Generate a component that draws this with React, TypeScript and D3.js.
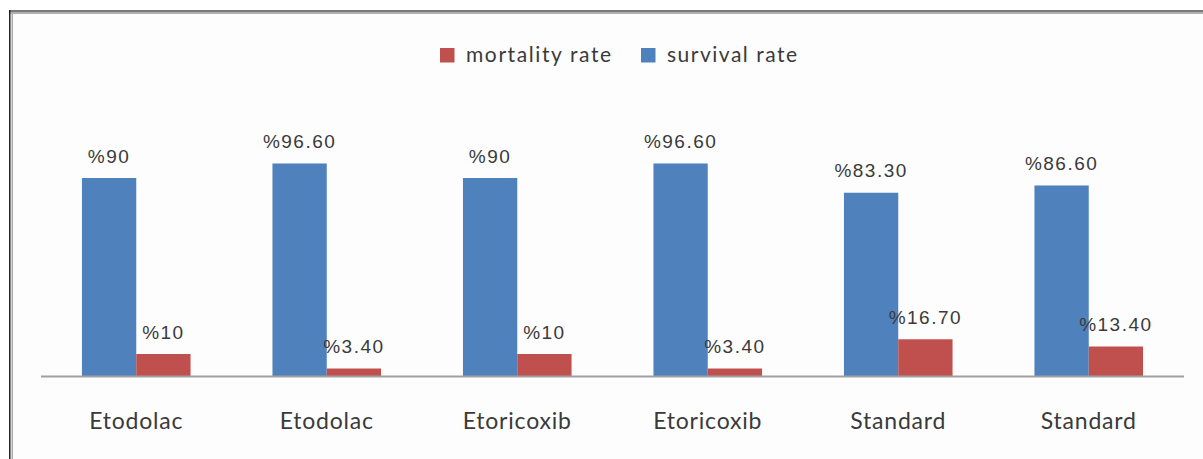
import React from "react";
import * as d3 from "d3";

const categories = ["Etodolac", "Etodolac", "Etoricoxib", "Etoricoxib", "Standard", "Standard"];
const survival = [90, 96.6, 90, 96.6, 83.3, 86.6];
const mortality = [10, 3.4, 10, 3.4, 16.7, 13.4];
const survivalLabels = ["%90", "%96.60", "%90", "%96.60", "%83.30", "%86.60"];
const mortalityLabels = ["%10", "%3.40", "%10", "%3.40", "%16.70", "%13.40"];
const seriesNames = ["mortality rate", "survival rate"];

const W = 1203;
const H = 459;
const BLUE = "#4F81BD";
const RED = "#C0504D";
const TEXT = "#3a3a3a";

export default function App() {
  const x = d3
    .scaleBand<number>()
    .domain(categories.map((_, i) => i))
    .range([41, 1184])
    .paddingInner(0.43)
    .paddingOuter(0.215);
  const y = d3.scaleLinear().domain([0, 100]).range([376, 156]);
  const bw = x.bandwidth() / 2;

  const labelFont = "'Liberation Sans', Arial, sans-serif";
  const catFont = "Lato, 'Open Sans', sans-serif";

  return (
    <svg
      width={W}
      height={H}
      style={{ position: "absolute", left: 0, top: 0, display: "block" }}
    >
      <rect x={0} y={0} width={W} height={H} fill="#ffffff" />
      <rect x={10} y={12} width={W - 10} height={H - 12} fill="#fdfdfd" />
      {/* frame */}
      <rect x={9} y={10} width={W - 9} height={2} fill="#7a7a7a" />
      <rect x={9} y={12} width={W - 9} height={2} fill="#b0b0b0" />
      <rect x={9} y={10} width={1.5} height={H - 10} fill="#222" />
      <rect x={11.5} y={13} width={1.5} height={H - 13} fill="#aaa" />

      {/* legend */}
      <rect x={440} y={48} width={14.5} height={14.5} fill={RED} />
      <text x={466} y={62} fontFamily={catFont} fontSize={21} letterSpacing={1.6} fill={TEXT}>
        {seriesNames[0]}
      </text>
      <rect x={641} y={48} width={14.5} height={14.5} fill={BLUE} />
      <text x={667} y={62} fontFamily={catFont} fontSize={21} letterSpacing={1.5} fill={TEXT}>
        {seriesNames[1]}
      </text>

      {/* bars */}
      {categories.map((_, i) => {
        const x0 = x(i)!;
        return (
          <g key={i}>
            <rect x={x0} y={y(survival[i])} width={bw} height={y(0) - y(survival[i])} fill={BLUE} />
            <rect x={x0 + bw} y={y(mortality[i])} width={bw} height={y(0) - y(mortality[i])} fill={RED} />
            <text
              x={x0 + bw / 2}
              y={y(survival[i]) - 15.5}
              textAnchor="middle"
              fontFamily={labelFont}
              fontSize={19}
              letterSpacing={1.5}
              fill={TEXT}
            >
              {survivalLabels[i]}
            </text>
            <text
              x={x0 + bw * 1.5}
              y={y(mortality[i]) - 15.5}
              textAnchor="middle"
              fontFamily={labelFont}
              fontSize={19}
              letterSpacing={1.5}
              fill={TEXT}
            >
              {mortalityLabels[i]}
            </text>
            <text
              x={x0 + bw}
              y={429}
              textAnchor="middle"
              fontFamily={catFont}
              fontSize={23}
              letterSpacing={0.8}
              fill={TEXT}
            >
              {categories[i]}
            </text>
          </g>
        );
      })}

      {/* baseline */}
      <line x1={41} x2={1184} y1={376.5} y2={376.5} stroke="#a0a0a0" strokeWidth={2} />
    </svg>
  );
}
